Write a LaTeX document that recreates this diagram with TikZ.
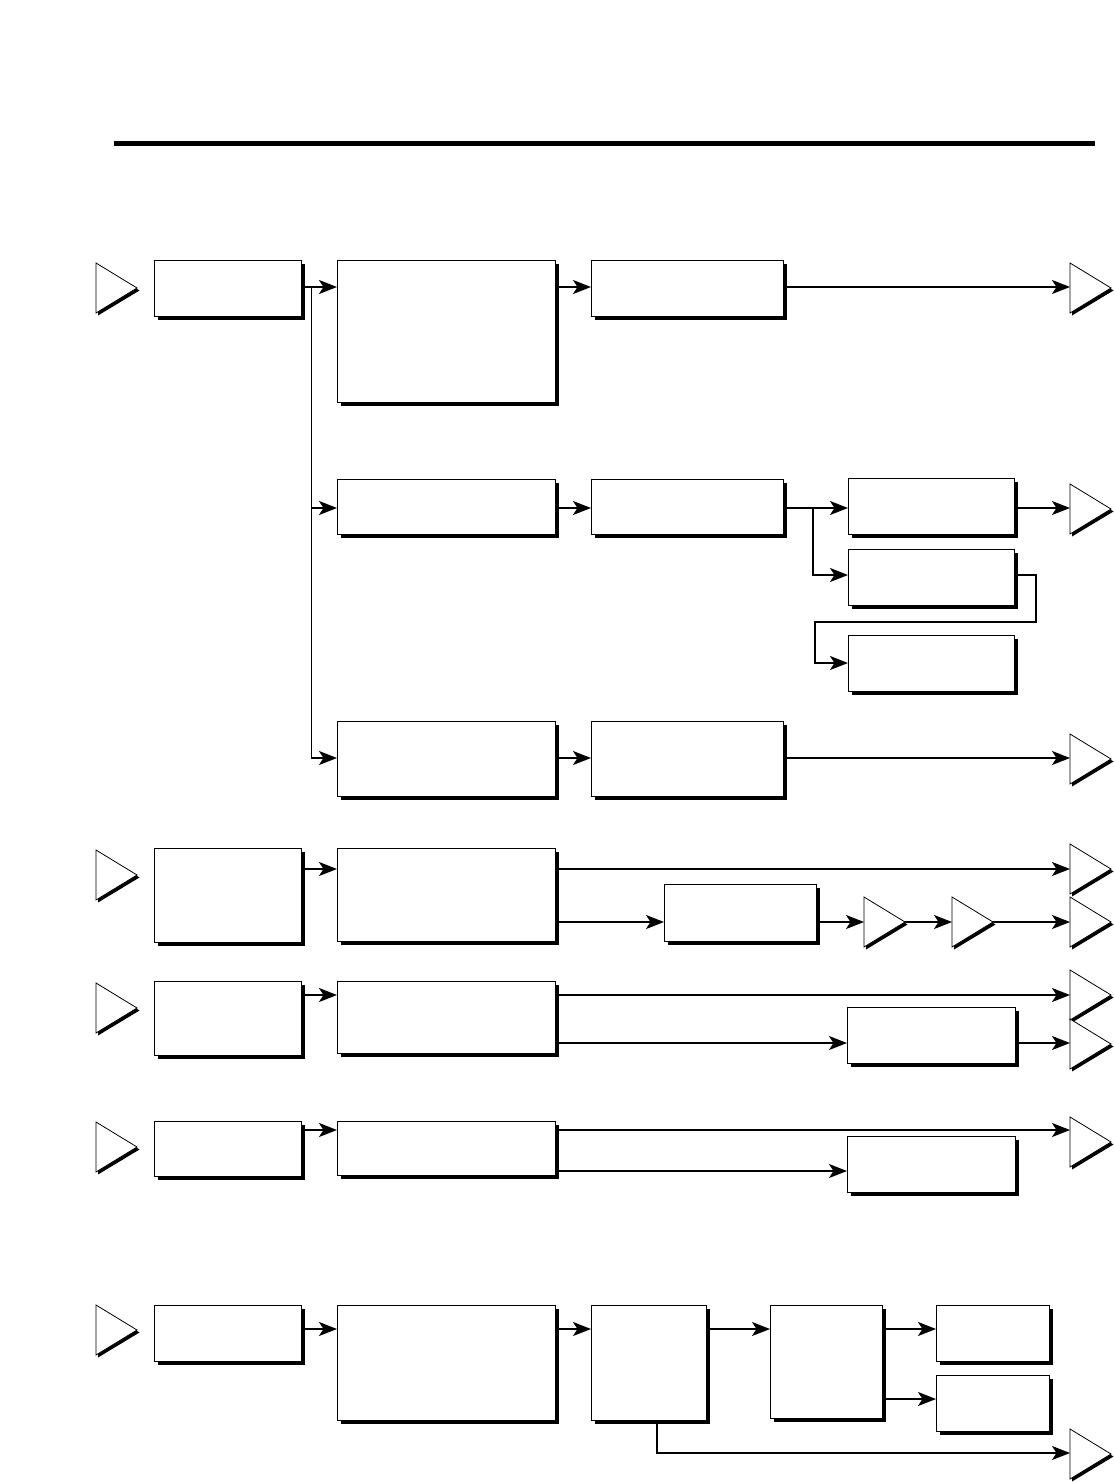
\documentclass[tikz,border=0pt]{standalone}
\usetikzlibrary{arrows.meta,shadows}
\tikzset{
  box/.style={draw, fill=white, line width=0.9pt, inner sep=0pt, outer sep=0pt,
    anchor=north west, general shadow={fill=black, shadow xshift=3.5pt, shadow yshift=-3.5pt}},
  conn/.style={line width=1.8pt},
  arr/.style={conn, -{Stealth[length=18pt,width=14pt,inset=4.5pt]}},
  busline/.style={line width=1pt},
  triedge/.style={line width=0.8pt, fill=white},
  trishadow/.style={fill=black},
}
\newcommand\mybox[5]{\node[box, minimum width={#4-#2}, minimum height={#5-#3}] (#1) at (#2,#3) {};}
\newcommand\mytri[3]{%
  \fill[trishadow] (#2+2,#3-23) -- (#2+43.5,#3+2.5) -- (#2+2,#3+27.5) -- cycle;
  \draw[triedge] (#2,#3-25) -- (#2+41,#3) -- (#2,#3+25) -- cycle;
  \coordinate (#1) at (#2,#3);
  \coordinate (#1a) at (#2+41,#3);
}
\begin{document}
\begin{tikzpicture}[x=1pt,y=-1pt]
\useasboundingbox (0,0) rectangle (1113,1482);
% header rule
\draw[line width=4.7pt] (114,143.5) -- (1095,143.5);

% boxes
\mybox{A}{154}{260}{301}{316}
\mybox{B}{337}{260}{555}{402}
\mybox{C}{591}{260}{783}{316}
\mybox{D}{337}{479}{555}{534}
\mybox{E}{591}{479}{783}{534}
\mybox{F}{848}{478}{1014}{534}
\mybox{G}{848}{549}{1014}{605}
\mybox{H}{848}{635}{1014}{691}
\mybox{I}{337}{721}{555}{796}
\mybox{J}{591}{721}{783}{796}
\mybox{K}{154}{848}{301}{942}
\mybox{L}{337}{848}{555}{941}
\mybox{M}{664}{884}{816}{941}
\mybox{N}{154}{981}{301}{1055}
\mybox{O}{337}{981}{555}{1053}
\mybox{P}{847}{1007}{1015}{1063}
\mybox{Q}{154}{1121}{301}{1176}
\mybox{R}{337}{1121}{555}{1175}
\mybox{S}{847}{1136}{1015}{1192}
\mybox{U}{154}{1305}{301}{1361}
\mybox{V}{337}{1305}{555}{1420}
\mybox{W}{591}{1305}{706}{1420}
\mybox{X}{770}{1305}{882}{1418}
\mybox{Y}{936}{1305}{1049}{1361}
\mybox{Z}{936}{1375}{1049}{1431}

% triangles
\mytri{t1}{96}{288}
\mytri{t2}{1070}{288}
\mytri{t3}{1070}{509}
\mytri{t4}{1070}{759}
\mytri{t5}{96}{875}
\mytri{t6}{1070}{869}
\mytri{t7}{864}{922}
\mytri{t8}{952}{922}
\mytri{t9}{1070}{922}
\mytri{t10}{96}{1008}
\mytri{t11}{1070}{995}
\mytri{t12}{1070}{1044}
\mytri{t13}{96}{1147}
\mytri{t14}{1070}{1142}
\mytri{t15}{96}{1330}
\mytri{t16}{1070}{1454}

% rows 1-3
\draw[arr] (A.east |- 0,287) -- (B.west |- 0,287);
\coordinate (bus) at (311,287);
\draw[busline] (bus) -- (311,758);
\draw[arr] (311,508) -- (D.west |- 0,508);
\draw[arr] (311,758) -- (I.west |- 0,758);
\draw[arr] (B.east |- 0,287) -- (C.west |- 0,287);
\draw[arr] (C.east |- 0,287) -- (t2 |- 0,287);
\draw[arr] (D.east |- 0,508) -- (E.west |- 0,508);
\draw[arr] (E.east |- 0,508) -- (F.west |- 0,508);
\coordinate (br1) at (813,508);
\draw[arr] (br1) -- (813,575) -- (G.west |- 0,575);
\draw[arr] (F.east |- 0,508) -- (t3 |- 0,508);
\draw[arr] (G.east |- 0,575) -- (1036,575) -- (1036,622) -- (815,622) -- (815,663) -- (H.west |- 0,663);
\draw[arr] (I.east |- 0,758) -- (J.west |- 0,758);
\draw[arr] (J.east |- 0,758) -- (t4 |- 0,758);

% row 4
\draw[arr] (K.east |- 0,869) -- (L.west |- 0,869);
\draw[arr] (L.east |- 0,869) -- (t6 |- 0,869);
\draw[arr] (L.east |- 0,922) -- (M.west |- 0,922);
\draw[arr] (M.east |- 0,922) -- (t7);
\draw[arr] (t7a) -- (t8);
\draw[arr] (t8a) -- (t9);

% row 5
\draw[arr] (N.east |- 0,995) -- (O.west |- 0,995);
\draw[arr] (O.east |- 0,995) -- (t11 |- 0,995);
\draw[arr] (O.east |- 0,1043) -- (P.west |- 0,1043);
\draw[arr] (P.east |- 0,1043) -- (t12 |- 0,1043);

% row 6
\draw[arr] (Q.east |- 0,1130) -- (R.west |- 0,1130);
\draw[arr] (R.east |- 0,1130) -- (t14 |- 0,1130);
\draw[arr] (R.east |- 0,1171) -- (S.west |- 0,1171);

% row 7
\draw[arr] (U.east |- 0,1329) -- (V.west |- 0,1329);
\draw[arr] (V.east |- 0,1329) -- (W.west |- 0,1329);
\draw[arr] (W.east |- 0,1329) -- (X.west |- 0,1329);
\draw[arr] (X.east |- 0,1329) -- (Y.west |- 0,1329);
\draw[arr] (X.east |- 0,1399) -- (Z.west |- 0,1399);
\draw[arr] (W.south -| 657,0) -- (657,1453) -- (t16 |- 0,1453);
\end{tikzpicture}
\end{document}
